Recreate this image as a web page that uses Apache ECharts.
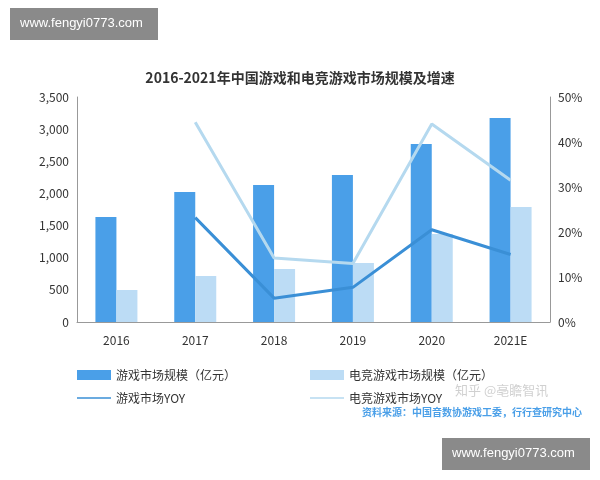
<!DOCTYPE html><html><head><meta charset="utf-8"><script src="https://cdn.jsdelivr.net/npm/echarts@6/dist/echarts.min.js"></script></head><body style="margin:0"><div id="c" style="width:600px;height:480px"></div><script>
var categories=['2016','2017','2018','2019','2020','2021E'];
var gameMarket=[1633,2022,2131,2287,2769,3173];
var esportsMarket=[498,716,824,918,1369,1789];
var gameYoy=[null,23.2,5.3,7.7,20.5,15.0];
var esportsYoy=[null,44.4,14.2,13.0,44.0,31.5];
var f='"Noto Sans CJK SC",sans-serif';
var ts={fontFamily:f,fontSize:12,color:'#333'};
var lineIcon='path://M0,4L40,4L40,6L0,6Z';
function lg(name,left,top,icon){return {data:[name],left:left,top:top,itemWidth:34,itemHeight:icon?3:10,icon:icon||'rect',textStyle:ts};}
var ch=echarts.init(document.getElementById('c'));
ch.setOption({
 backgroundColor:'#fff',
 title:{text:'2016-2021年中国游戏和电竞游戏市场规模及增速',left:'center',top:66,textStyle:{fontFamily:f,fontSize:14,fontWeight:'bold',color:'#333'}},
 grid:{left:77,right:50,top:97,bottom:158},
 legend:[lg('游戏市场规模（亿元）',72,364),lg('电竞游戏市场规模（亿元）',305,364),lg('游戏市场YOY',72,387,lineIcon),lg('电竞游戏市场YOY',305,387,lineIcon)],
 xAxis:{type:'category',data:categories,axisTick:{show:false},axisLine:{lineStyle:{color:'#999'}},axisLabel:{fontFamily:f,fontSize:12,color:'#333',margin:12}},
 yAxis:[{type:'value',min:0,max:3500,interval:500,splitLine:{show:false},axisLine:{show:true,lineStyle:{color:'#999'}},axisLabel:{fontFamily:f,fontSize:12,color:'#333',formatter:function(v){return v.toLocaleString('en-US');}}},
  {type:'value',min:0,max:50,interval:10,splitLine:{show:false},axisLine:{show:true,lineStyle:{color:'#999'}},axisLabel:{fontFamily:f,fontSize:12,color:'#333',formatter:'{value}%'}}],
 series:[
  {name:'游戏市场规模（亿元）',type:'bar',data:gameMarket,barWidth:21,barGap:'0%',itemStyle:{color:'#4a9fe8'}},
  {name:'电竞游戏市场规模（亿元）',type:'bar',data:esportsMarket,barWidth:21,itemStyle:{color:'#bcdcf5'}},
  {name:'游戏市场YOY',type:'line',yAxisIndex:1,data:gameYoy,showSymbol:false,symbol:'none',lineStyle:{width:3,color:'#3a8fd6'},itemStyle:{color:'#3a8fd6'}},
  {name:'电竞游戏市场YOY',type:'line',yAxisIndex:1,data:esportsYoy,showSymbol:false,symbol:'none',lineStyle:{width:3,color:'#b5d9ef'},itemStyle:{color:'#b5d9ef'}}
 ],
 graphic:[
  {type:'rect',left:10,top:8,shape:{width:148,height:32},style:{fill:'#8a8a8a'}},
  {type:'text',left:20,top:17,style:{text:'www.fengyi0773.com',fill:'#fff',font:'13px sans-serif'}},
  {type:'rect',left:442,top:438,shape:{width:148,height:32},style:{fill:'#8a8a8a'}},
  {type:'text',left:452,top:447,style:{text:'www.fengyi0773.com',fill:'#fff',font:'13px sans-serif'}},
  {type:'text',right:18,top:407,style:{text:'资料来源：中国音数协游戏工委，行行查研究中心',fill:'#4a9fe8',font:'bold 10px "Noto Sans CJK SC"'}},
  {type:'text',left:455,top:384,style:{text:'知乎 @亳瞻智讯',fill:'rgba(150,150,150,0.45)',font:'13px "Noto Sans CJK SC"'}}
 ]
});
</script></body></html>
